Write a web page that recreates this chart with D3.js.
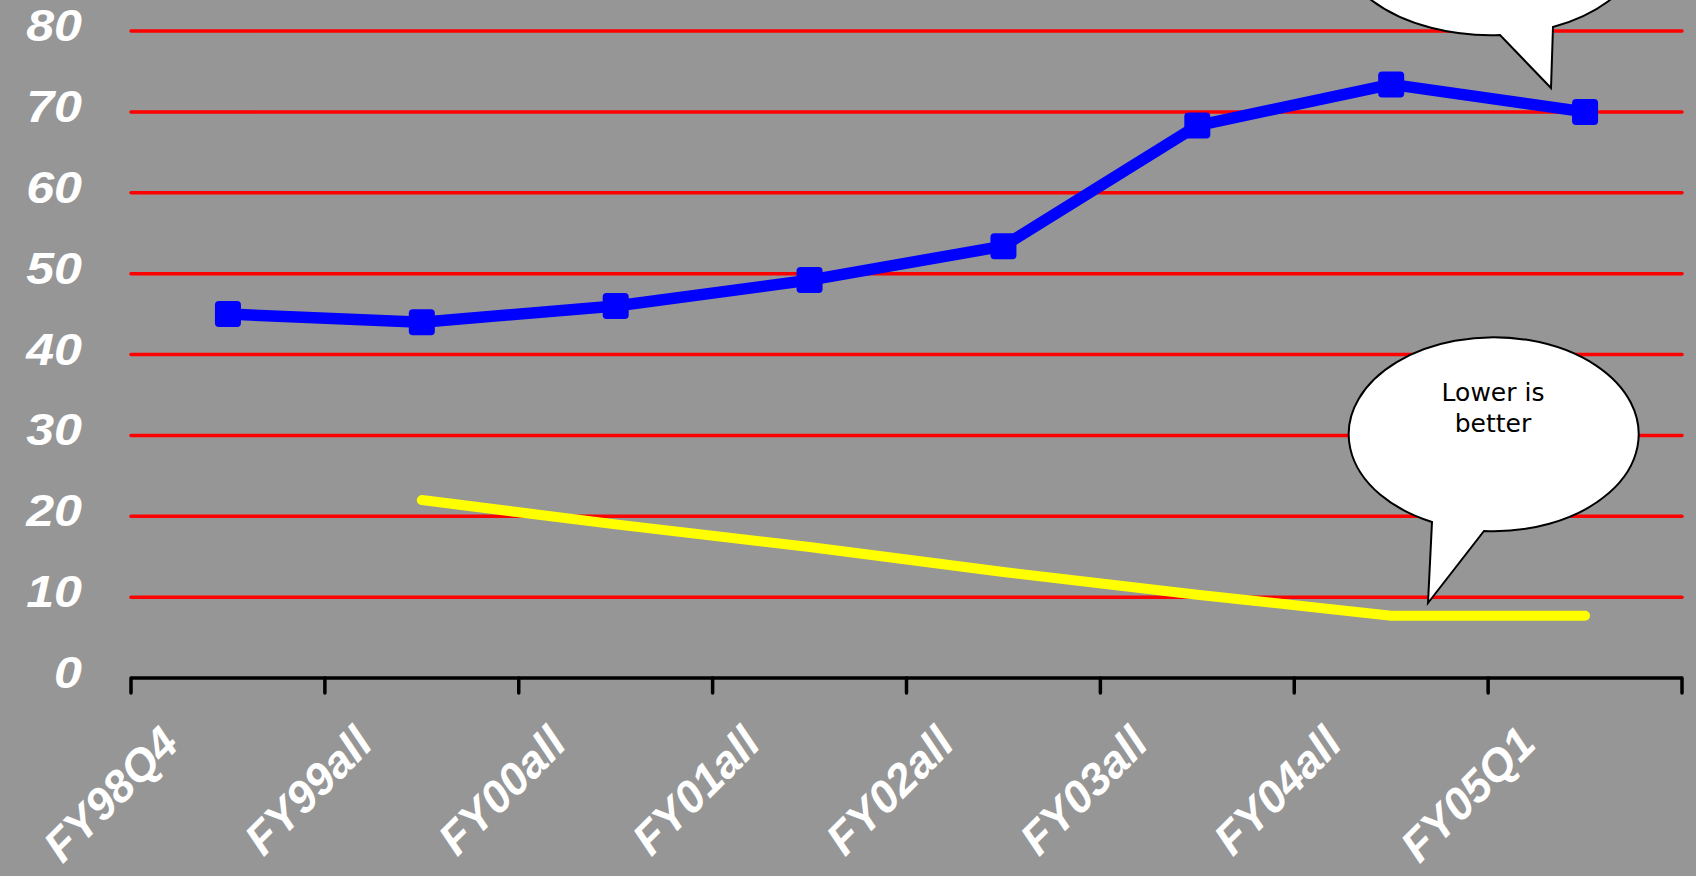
<!DOCTYPE html>
<html>
<head>
<meta charset="utf-8">
<script src="https://cdn.jsdelivr.net/npm/d3@7"></script>
<style>
  html, body { margin: 0; padding: 0; background: #969696; }
  svg { display: block; }
</style>
</head>
<body>
<svg id="chart" width="1696" height="876"></svg>
<script>
// Periods on the category axis
const categories = ["FY98Q4", "FY99all", "FY00all", "FY01all", "FY02all", "FY03all", "FY04all", "FY05Q1"];
// Blue series (higher is better)
const blueValues = [45, 44, 46, 49.2, 53.4, 68.3, 73.4, 70];
// Yellow series (lower is better), no value for the first period
const yellowValues = [null, 22, 19, 16.2, 13.1, 10.3, 7.7, 7.7];
// Value-axis ticks
const yTicks = [0, 10, 20, 30, 40, 50, 60, 70, 80];

const W = 1696, H = 876;
const plot = { left: 131, right: 1682, top: 31, bottom: 678 };

const svg = d3.select("#chart");
svg.append("rect").attr("width", W).attr("height", H).attr("fill", "#969696");

const x = d3.scaleBand().domain(categories).range([plot.left, plot.right]).padding(0);
const y = d3.scaleLinear().domain([0, 80]).range([plot.bottom, plot.top]);
const cx = c => x(c) + x.bandwidth() / 2;

// Red horizontal gridlines
svg.append("g")
  .selectAll("line")
  .data(yTicks.filter(t => t > 0))
  .join("line")
  .attr("x1", plot.left).attr("x2", plot.right)
  .attr("y1", d => y(d)).attr("y2", d => y(d))
  .attr("stroke", "#ff0000").attr("stroke-width", 3.5).attr("stroke-linecap", "round");

// Value labels on the left
svg.append("g")
  .selectAll("text")
  .data(yTicks)
  .join("text")
  .attr("transform", d => `translate(82,${y(d) + 10}) scale(1.14,1)`)
  .attr("text-anchor", "end")
  .attr("font-family", "'Liberation Sans', Arial, sans-serif")
  .attr("font-weight", "bold")
  .attr("font-style", "italic")
  .attr("font-size", 44)
  .attr("fill", "#ffffff")
  .text(d => d);

// Category axis: line plus ticks between categories
const xAxis = d3.axisBottom(x).tickSize(0).tickFormat("");
const axisG = svg.append("g").attr("transform", `translate(0,${plot.bottom})`).call(xAxis);
axisG.select(".domain").remove();
axisG.selectAll(".tick").remove();
axisG.append("line")
  .attr("x1", plot.left).attr("x2", plot.right).attr("y1", 0).attr("y2", 0)
  .attr("stroke", "#000").attr("stroke-width", 3.5);
const boundaries = categories.map(c => x(c)).concat([x(categories[categories.length - 1]) + x.bandwidth()]);
axisG.selectAll("line.tk")
  .data(boundaries)
  .join("line")
  .attr("class", "tk")
  .attr("x1", d => d).attr("x2", d => d).attr("y1", 0).attr("y2", 15)
  .attr("stroke", "#000").attr("stroke-width", 3.5).attr("stroke-linecap", "round");

// Rotated category labels
svg.append("g")
  .selectAll("text")
  .data(categories)
  .join("text")
  .attr("transform", d => `translate(${cx(d) - 47},${plot.bottom + 68}) rotate(-45)`)
  .attr("text-anchor", "end")
  .attr("font-family", "'Liberation Sans', Arial, sans-serif")
  .attr("font-weight", "bold")
  .attr("font-style", "italic")
  .attr("font-size", 45)
  .attr("fill", "#ffffff")
  .text(d => d);

// Yellow series
const yellowLine = d3.line()
  .defined(d => d.v != null)
  .x(d => cx(d.c)).y(d => y(d.v));
const yellowData = categories.map((c, i) => ({ c, v: yellowValues[i] }));
svg.append("path")
  .datum(yellowData)
  .attr("d", yellowLine)
  .attr("fill", "none")
  .attr("stroke", "#ffff00")
  .attr("stroke-width", 10)
  .attr("stroke-linecap", "round")
  .attr("stroke-linejoin", "round");

// Blue series with square markers
const blueData = categories.map((c, i) => ({ c, v: blueValues[i] }));
svg.append("path")
  .datum(blueData)
  .attr("d", d3.line().x(d => cx(d.c)).y(d => y(d.v)))
  .attr("fill", "none")
  .attr("stroke", "#0000ff")
  .attr("stroke-width", 11.5)
  .attr("stroke-linejoin", "round");
const mk = 26;
svg.append("g")
  .selectAll("rect")
  .data(blueData)
  .join("rect")
  .attr("x", d => cx(d.c) - mk / 2)
  .attr("y", d => y(d.v) - mk / 2)
  .attr("width", mk).attr("height", mk)
  .attr("rx", 4).attr("ry", 4)
  .attr("fill", "#0000ff");

// Speech-bubble callouts: ellipse with a pointed tail
function bubble(g, rx, ry, baseA, tip, baseB) {
  // baseA and baseB lie on the ellipse; the arc goes the long way round
  const p = `M${baseB[0]},${baseB[1]} A${rx},${ry} 0 1 0 ${baseA[0]},${baseA[1]} L${tip[0]},${tip[1]} Z`;
  return g.append("path")
    .attr("d", p)
    .attr("fill", "#ffffff")
    .attr("stroke", "#000000")
    .attr("stroke-width", 2)
    .attr("stroke-linejoin", "miter");
}
const callouts = svg.append("g");
// Upper bubble, mostly above the top edge
bubble(callouts, 153, 94, [1500, 35], [1551, 88], [1553, 27]);
// Lower bubble
bubble(callouts, 145, 97, [1432, 522], [1428, 603], [1484, 531]);

const note = callouts.append("text")
  .attr("font-family", "'DejaVu Sans', Verdana, sans-serif")
  .attr("font-size", 25)
  .attr("fill", "#000")
  .attr("text-anchor", "middle");
note.append("tspan").attr("x", 1493).attr("y", 401).text("Lower is");
note.append("tspan").attr("x", 1493).attr("y", 432).text("better");
</script>
</body>
</html>
